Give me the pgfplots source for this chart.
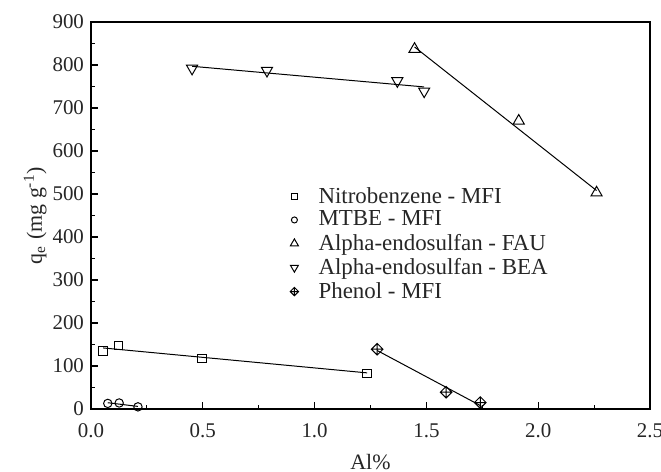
\documentclass[border=0pt]{standalone}
\usepackage{fontspec}
\setmainfont{Liberation Serif}
\usepackage{pgfplots}
\pgfplotsset{compat=1.18}

% diamond with a cross inside, for the phenol series
\pgfdeclareplotmark{dplus}{%
  \pgfpathmoveto{\pgfqpoint{0pt}{\pgfplotmarksize}}%
  \pgfpathlineto{\pgfqpoint{\pgfplotmarksize}{0pt}}%
  \pgfpathlineto{\pgfqpoint{0pt}{-\pgfplotmarksize}}%
  \pgfpathlineto{\pgfqpoint{-\pgfplotmarksize}{0pt}}%
  \pgfpathclose
  \pgfpathmoveto{\pgfqpoint{0pt}{\pgfplotmarksize}}%
  \pgfpathlineto{\pgfqpoint{0pt}{-\pgfplotmarksize}}%
  \pgfpathmoveto{\pgfqpoint{-\pgfplotmarksize}{0pt}}%
  \pgfpathlineto{\pgfqpoint{\pgfplotmarksize}{0pt}}%
  \pgfusepathqstroke}

\begin{document}
\begin{tikzpicture}
\begin{axis}[
  name=ax,
  scale only axis, width=279.5bp, height=193.5bp,
  xmin=0, xmax=2.5, ymin=0, ymax=900,
  xtick={0,0.5,...,2.5}, ytick={0,100,...,900},
  minor x tick num=1, minor y tick num=1,
  tick align=inside, xtick pos=bottom, ytick pos=left,
  major tick length=3.5bp, minor tick length=2bp,
  axis line style={line width=0.65pt}, every tick/.style={line width=0.6pt,black},
  /pgf/number format/assume math mode=true,
  tick label style={font=\fontsize{10.5}{12}\selectfont, text=black!85},
  xticklabel style={yshift=-4bp, /pgf/number format/.cd, fixed, fixed zerofill, precision=1},
  xlabel={Al\%}, ylabel={q\textsubscript{e} (mg g\textsuperscript{-1})},
  label style={font=\fontsize{11}{13}\selectfont, text=black!85},
  xlabel style={at={(axis description cs:0.5,-0.137)}, anchor=center},
  ylabel style={at={(axis description cs:-0.1,0.5)}, anchor=center},
  legend style={at={(0.345,0.595)}, anchor=north west, draw=none, fill=none,
    font=\fontsize{11.5}{12.5}\selectfont, text=black!85, row sep=-1.5bp,
    /tikz/every odd column/.append style={column sep=8bp}},
  legend image post style={every mark/.append style={scale=0.72}},
  legend cell align=left,
]
% points
\addplot[only marks, mark=square, mark size=2.1bp, line width=0.5pt] coordinates
  {(0.054,135) (0.122,147) (0.497,118) (1.235,83)};
\addlegendentry{Nitrobenzene - MFI}
\addplot[only marks, mark=o, mark size=2.1bp, line width=0.5pt] coordinates
  {(0.075,13) (0.126,14) (0.21,5)};
\addlegendentry{MTBE - MFI}
\addplot[only marks, mark=triangle, mark size=3.2bp, line width=0.5pt] coordinates
  {(1.447,837) (1.913,670) (2.261,503)};
\addlegendentry{Alpha-endosulfan - FAU}
\addplot[only marks, mark=triangle, mark size=3.2bp, mark options={rotate=180}, line width=0.5pt] coordinates
  {(0.452,792) (0.787,787) (1.37,763) (1.49,739)};
\addlegendentry{Alpha-endosulfan - BEA}
\addplot[only marks, mark=dplus, mark size=2.9bp, line width=0.5pt] coordinates
  {(1.28,139) (1.588,39) (1.741,15)};
\addlegendentry{Phenol - MFI}
% fitted lines
\addplot[forget plot, black, line width=0.5pt] coordinates {(0.054,142) (1.235,84)};
\addplot[forget plot, black, line width=0.5pt] coordinates {(0.075,14.6) (0.21,6)};
\addplot[forget plot, black, line width=0.5pt] coordinates {(1.447,842) (2.261,508)};
\addplot[forget plot, black, line width=0.5pt] coordinates {(0.452,797) (1.49,749)};
\addplot[forget plot, black, line width=0.5pt] coordinates {(1.28,136) (1.745,7)};
\end{axis}
\pgfresetboundingbox
\path ([shift={(-45.5bp,-31.5bp)}]ax.south west) rectangle ([shift={(5.5bp,11bp)}]ax.north east);
\end{tikzpicture}
\end{document}
